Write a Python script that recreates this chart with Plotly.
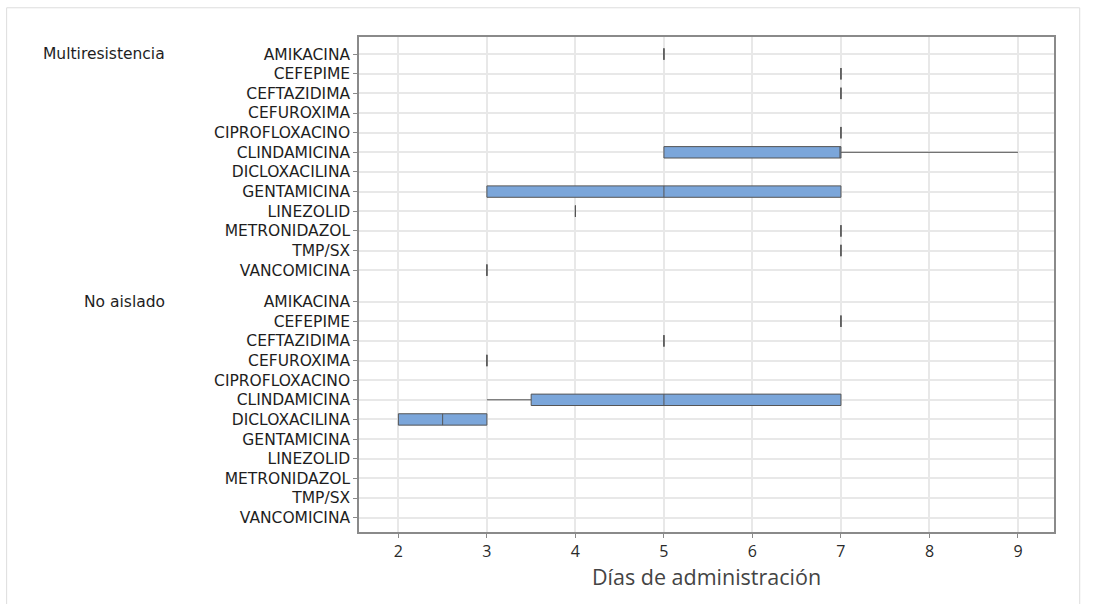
import plotly.graph_objects as go

# Antibiotics listed for each isolation group
antibiotics = ["AMIKACINA", "CEFEPIME", "CEFTAZIDIMA", "CEFUROXIMA", "CIPROFLOXACINO",
               "CLINDAMICINA", "DICLOXACILINA", "GENTAMICINA", "LINEZOLID",
               "METRONIDAZOL", "TMP/SX", "VANCOMICINA"]
groups = ["Multiresistencia", "No aislado"]

# Box-plot summaries (days of administration); None = no data
multi_low = [5, 7, 7, None, 7, 5, None, 3, 4, 7, 7, 3]
multi_q1 = [5, 7, 7, None, 7, 5, None, 3, 4, 7, 7, 3]
multi_median = [5, 7, 7, None, 7, 7, None, 5, 4, 7, 7, 3]
multi_q3 = [5, 7, 7, None, 7, 7, None, 7, 4, 7, 7, 3]
multi_high = [5, 7, 7, None, 7, 9, None, 7, 4, 7, 7, 3]

noais_low = [None, 7, 5, 3, None, 3, 2, None, None, None, None, None]
noais_q1 = [None, 7, 5, 3, None, 3.5, 2, None, None, None, None, None]
noais_median = [None, 7, 5, 3, None, 5, 2.5, None, None, None, None, None]
noais_q3 = [None, 7, 5, 3, None, 7, 3, None, None, None, None, None]
noais_high = [None, 7, 5, 3, None, 7, 3, None, None, None, None, None]

x_ticks = [2, 3, 4, 5, 6, 7, 8, 9]

GROUP_GAP = 1.6
n = len(antibiotics)
pos_multi = list(range(n))
pos_noais = [n - 1 + GROUP_GAP + i for i in range(n)]

fig = go.Figure()


def add_boxes(positions, low, q1, med, q3, high):
    ys, l, a, m, b, h = [], [], [], [], [], []
    for p, v0, v1, v2, v3, v4 in zip(positions, low, q1, med, q3, high):
        if v2 is None:
            continue
        ys.append(p); l.append(v0); a.append(v1); m.append(v2); b.append(v3); h.append(v4)
    fig.add_trace(go.Box(
        y=ys, lowerfence=l, q1=a, median=m, q3=b, upperfence=h,
        orientation="h", width=0.58, whiskerwidth=0,
        fillcolor="#7BA6DA", line=dict(color="#555555", width=1),
        boxpoints=False, showlegend=False, hoverinfo="x",
    ))


add_boxes(pos_multi, multi_low, multi_q1, multi_median, multi_q3, multi_high)
add_boxes(pos_noais, noais_low, noais_q1, noais_median, noais_q3, noais_high)

label_font = dict(family="DejaVu Sans, sans-serif", size=15.5, color="#1e1e1e")

fig.update_layout(
    width=1093, height=604,
    margin=dict(l=359, r=39, t=37, b=72),
    paper_bgcolor="white", plot_bgcolor="white",
    font=label_font,
    xaxis=dict(
        range=[1.555, 9.407], tickvals=x_ticks, ticktext=[str(v) for v in x_ticks],
        showgrid=True, gridcolor="#e8e8e8", gridwidth=1.5, zeroline=False,
        showline=True, linecolor="#8a8a8a", linewidth=1.5, mirror=True,
        ticks="outside", ticklen=4, tickcolor="#8a8a8a",
        tickfont=dict(family="Open Sans, sans-serif", size=16, color="#2a2a2a"),
        title=dict(text="Días de administración", standoff=6,
                   font=dict(family="Open Sans, sans-serif", size=21.5, color="#444444")),
    ),
    yaxis=dict(
        range=[pos_noais[-1] + 0.73, -0.87],
        tickvals=pos_multi + pos_noais, ticktext=antibiotics + antibiotics,
        showgrid=True, gridcolor="#e8e8e8", gridwidth=1.5, zeroline=False,
        showline=True, linecolor="#8a8a8a", linewidth=1.5, mirror=True,
        ticks="outside", ticklen=4, tickcolor="#8a8a8a",
        tickfont=label_font,
    ),
)

# Group labels on the left of the category axis
for name, p in zip(groups, [pos_multi[0], pos_noais[0]]):
    fig.add_annotation(text=name, xref="paper", yref="y", x=-0.2767, y=p,
                       xanchor="right", yanchor="middle", showarrow=False,
                       font=dict(family="DejaVu Sans, sans-serif", size=15.5, color="#1e1e1e"))

# Light outer frame
fig.add_shape(type="rect", xref="paper", yref="paper",
              x0=-0.507, x1=1.037, y0=-0.16, y1=1.059,
              line=dict(color="#dddddd", width=1), fillcolor="rgba(0,0,0,0)", layer="below")

fig.write_html("out.html")
